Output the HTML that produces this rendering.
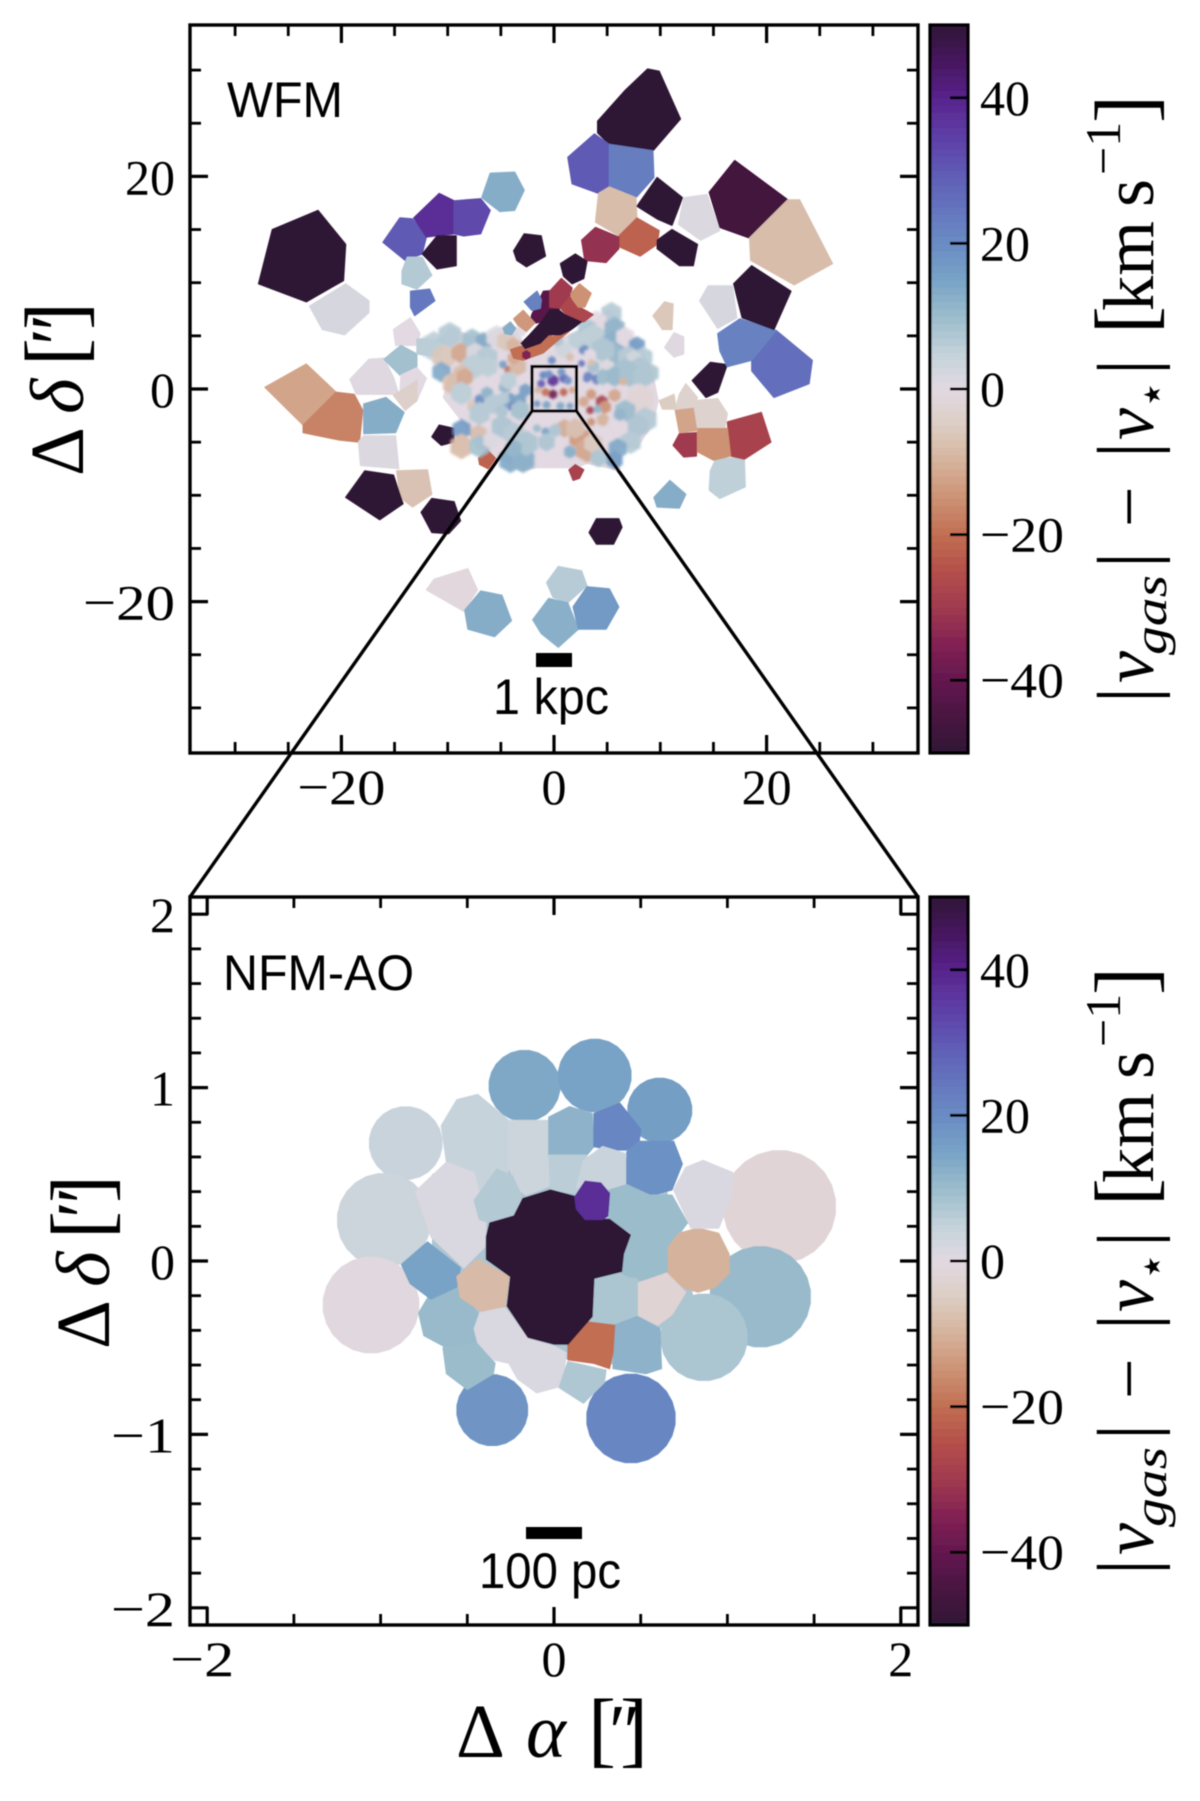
<!DOCTYPE html>
<html lang="en">
<head>
<meta charset="utf-8">
<title>WFM and NFM-AO velocity difference maps</title>
<style>
html,body{margin:0;padding:0;background:#fff;}
svg{display:block;}
text{font-family:"Liberation Serif","DejaVu Serif",serif;fill:#000;}
.sans{font-family:"Liberation Sans","DejaVu Sans",sans-serif;}
.it{font-style:italic;}
</style>
</head>
<body>
<svg id="figure" xmlns="http://www.w3.org/2000/svg" width="1200" height="1801" viewBox="0 0 1200 1801">
<defs>
<filter id="soft" x="-2%" y="-2%" width="104%" height="104%"><feGaussianBlur stdDeviation="0.6"/></filter>
<filter id="softer" x="-5%" y="-5%" width="110%" height="110%"><feGaussianBlur stdDeviation="1.4"/></filter>
</defs>
<rect x="0" y="0" width="1200" height="1801" fill="#fff"/>
<g id="root" filter="url(#soft)">
<g id="wfm-cells"></g>
<g id="wfm-small-cells" filter="url(#softer)" opacity="0.9"></g>
<g id="wfm-filament"></g>
<g id="nfm-cells"></g>
<g id="axes"></g>

<text class="sans" x="227" y="117" font-size="50" textLength="116" lengthAdjust="spacingAndGlyphs">WFM</text>
<text class="sans" x="223" y="990" font-size="50" textLength="191" lengthAdjust="spacingAndGlyphs">NFM-AO</text>

<rect x="536" y="653" width="36" height="14" fill="#000"/>
<text class="sans" x="493" y="714" font-size="50" textLength="116" lengthAdjust="spacingAndGlyphs">1 kpc</text>
<rect x="526" y="1527" width="56" height="12" fill="#000"/>
<text class="sans" x="479" y="1588" font-size="50" textLength="142" lengthAdjust="spacingAndGlyphs">100 pc</text>

<rect x="532" y="366.5" width="44.5" height="44.5" fill="none" stroke="#000" stroke-width="3.2"/>
<line x1="532" y1="411" x2="190" y2="897" stroke="#000" stroke-width="3.4"/>
<line x1="576.5" y1="411" x2="918" y2="897" stroke="#000" stroke-width="3.4"/>

<g transform="translate(83,476) rotate(-90)">
<text x="0" y="0" font-size="76">Δ</text><text class="it" x="62" y="0" font-size="76">δ</text><text x="110" y="0" font-size="84">[</text><text class="it" x="126" y="0" font-size="76">″</text><text x="146" y="0" font-size="84">]</text>
</g>
<g transform="translate(109,1349)rotate(-90)">
<text x="0" y="0" font-size="76">Δ</text><text class="it" x="62" y="0" font-size="76">δ</text><text x="110" y="0" font-size="84">[</text><text class="it" x="126" y="0" font-size="76">″</text><text x="146" y="0" font-size="84">]</text>
</g>
<g>
<text x="456" y="1757" font-size="76">Δ</text><text class="it" x="526" y="1757" font-size="76">α</text><text x="588" y="1757" font-size="84">[</text><text class="it" x="604" y="1757" font-size="76">″</text><text x="620" y="1757" font-size="84">]</text>
</g>

<g transform="translate(1153,695) rotate(-90)">
<text x="-8" y="0" font-size="80">|</text><text class="it" x="12" y="0" font-size="72">v</text><text class="it" x="40" y="13" font-size="46" textLength="80" lengthAdjust="spacingAndGlyphs">gas</text><text x="127" y="0" font-size="80">|</text><text x="168" y="0" font-size="72">−</text><text x="237" y="0" font-size="80">|</text><text class="it" x="255" y="0" font-size="72">v</text><text x="286" y="14" font-size="46" style="font-family:'DejaVu Sans',sans-serif">⋆</text><text x="320" y="0" font-size="80">|</text><text x="361" y="0" font-size="84">[</text><text x="384" y="0" font-size="72" textLength="90" lengthAdjust="spacingAndGlyphs">km</text><text x="488" y="0" font-size="72">s</text><text x="520" y="-33" font-size="50">−1</text><text x="572" y="0" font-size="84">]</text>
</g>
<g transform="translate(1153,1567) rotate(-90)">
<text x="-8" y="0" font-size="80">|</text><text class="it" x="12" y="0" font-size="72">v</text><text class="it" x="40" y="13" font-size="46" textLength="80" lengthAdjust="spacingAndGlyphs">gas</text><text x="127" y="0" font-size="80">|</text><text x="168" y="0" font-size="72">−</text><text x="237" y="0" font-size="80">|</text><text class="it" x="255" y="0" font-size="72">v</text><text x="286" y="14" font-size="46" style="font-family:'DejaVu Sans',sans-serif">⋆</text><text x="320" y="0" font-size="80">|</text><text x="361" y="0" font-size="84">[</text><text x="384" y="0" font-size="72" textLength="90" lengthAdjust="spacingAndGlyphs">km</text><text x="488" y="0" font-size="72">s</text><text x="520" y="-33" font-size="50">−1</text><text x="572" y="0" font-size="84">]</text>
</g>
</g>
</svg>
<script>
// ---- colour scale (velocity difference, km/s) ----
const scaleValues = [-50,-45,-40,-35,-30,-25,-20,-15,-10,-5,0,5,10,15,20,25,30,35,40,45,50];
const scaleColors = [[47,20,54],[72,18,64],[100,24,80],[130,34,82],[160,58,80],[180,80,75],[193,110,82],[205,145,115],[213,178,155],[220,205,195],[226,217,226],[195,210,218],[155,188,203],[120,163,198],[105,140,195],[100,115,190],[95,90,180],[93,60,165],[88,35,140],[70,22,95],[47,20,54]];
const colorbarTicks = [-40,-20,0,20,40];

// ---- WFM axis ticks (arcsec) ----
const wfmMajorTicks = [-20,0,20];
const wfmMinorTicks = [-30,-25,-15,-10,-5,5,10,15,25,30];

// ---- NFM axis ticks (arcsec) ----
const nfmXMajorTicks = [-2,0,2];
const nfmXMinorTicks = [-1.5,-1,-0.5,0.5,1,1.5];
const nfmYMajorTicks = [-2,-1,0,1,2];
const nfmYMinorTicks = [-1.8,-1.6,-1.4,-1.2,-0.8,-0.6,-0.4,-0.2,0.2,0.4,0.6,0.8,1.2,1.4,1.6,1.8];

// ---- WFM Voronoi bins: velocity and vertices in arcsec ----
const wfmMassValue = [0];
const wfmMassVertices = [[-11.3,3.9,-9.8,5.8,-7.9,5.0,-6.3,4.9,-5.4,5.5,-4.1,6.3,-2.3,3.5,2.4,5.5,5.3,7.5,6.5,5.8,8.1,4.2,9.3,1.4,9.8,-1.1,9.3,-3.3,7.8,-5.5,6.2,-5.5,6.2,-7.7,5.0,-7.4,3.1,-7.0,2.1,-7.4,-1.6,-7.4,-3.2,-7.7,-4.8,-6.7,-7.3,-5.5,-8.7,-3.0,-10.4,-0.8,-9.8,1.4,-11.3,2.7]];
const wfmBinValues = [50,30,23,-8,50,1,-46,-8,-22,-32,50,50,50,2,30,38,33,13,50,7,24,50,
  -12,-17,0.5,13,1,-7,50,50,50,50,13,5.5,-28,-30,-15,-12,-3,-3,-5,50,26,22,50,2,-6,0.5,0,9,6,0,-4,
  -1,13,6.5,12.5,17,-28,-22];
const wfmBinVertices = [
[8.8,30.1,9.9,29.9,11.9,25.4,9.3,22.4,5.2,23.0,4.1,24.1,4.1,25.2,6.7,28.1],
[1.3,21.8,3.8,24.0,5.2,23.0,5.2,19.0,4.2,18.4,1.7,19.3],
[5.2,23.0,9.3,22.4,9.4,19.9,7.7,18.0,5.2,19.0],
[4.2,18.4,5.2,19.0,7.7,18.0,7.8,16.1,6.1,14.4,3.9,15.7],
[9.7,19.9,12.1,18.0,11.1,15.4,9.7,16.0,7.8,17.2],
[12.2,18.0,14.4,18.3,15.6,14.9,13.8,14.0,11.7,15.5],
[14.6,18.5,17.0,21.5,22.0,17.8,18.4,14.2,15.6,15.2],
[22.0,17.8,23.1,17.8,26.2,11.8,22.6,9.8,18.5,12.1,18.4,14.2],
[6.1,14.4,7.8,16.1,9.9,14.9,9.7,13.6,8.1,12.5,6.1,13.4],
[2.6,14.0,3.9,15.2,6.1,14.3,6.1,13.2,4.9,11.9,2.9,12.1],
[9.7,14.0,11.1,15.0,13.5,13.6,13.1,11.6,11.8,11.6,9.7,13.2],
[-3.8,13.0,-2.8,14.6,-1.2,14.4,-0.8,12.5,-2.6,11.5,-3.5,12.1],
[-27.8,9.9,-26.5,15.0,-22.2,16.8,-19.6,13.6,-19.8,10.2,-23.3,8.2],
[-23.0,7.8,-19.6,9.9,-17.4,8.3,-17.4,7.2,-19.7,5.1,-21.8,5.6],
[-16.1,13.8,-14.5,16.1,-13.3,16.0,-12.0,14.3,-12.4,12.7,-14.0,12.1],
[-13.2,16.1,-10.8,18.4,-9.4,17.7,-9.4,14.6,-12.0,14.3],
[-9.4,17.7,-6.9,17.9,-6.0,16.8,-6.9,14.6,-8.5,14.4,-9.4,14.6],
[-6.8,18.0,-6.0,20.3,-3.7,20.4,-2.8,18.7,-3.7,16.8,-5.1,16.7],
[-12.4,12.7,-11.0,14.4,-9.2,14.4,-9.2,11.6,-11.0,11.3],
[-14.3,11.1,-13.8,12.4,-12.4,12.4,-11.5,10.7,-12.9,9.4,-14.3,9.9],
[-13.5,9.2,-11.7,9.4,-11.2,8.3,-13.1,6.9,-13.5,7.7],
[0.6,11.8,2.0,12.7,3.1,12.0,2.8,10.4,1.7,9.9,0.9,10.6],
[-27.2,0.16,-23.3,2.35,-20.5,-0.3,-23.6,-3.4],
[-23.6,-3.4,-20.5,-0.3,-18.8,-0.5,-18.0,-2.0,-18.3,-5.0,-20.2,-4.8,-23.6,-4.1],
[-19.2,0.9,-17.4,2.8,-16.0,2.9,-15.1,1.1,-14.6,-0.5,-18.6,-0.5],
[-17.9,-1.4,-15.8,-0.8,-14.1,-2.2,-14.9,-4.1,-17.9,-4.2],
[-18.4,-5.0,-17.9,-4.4,-14.9,-4.4,-14.6,-7.5,-18.2,-7.2],
[-14.8,-7.7,-11.9,-7.6,-11.5,-9.9,-13.3,-11.1,-14.5,-10.2],
[-19.6,-10.2,-17.8,-7.7,-15.1,-8.1,-14.2,-10.8,-16.4,-12.3],
[-12.5,-11.6,-11.5,-10.3,-9.4,-10.6,-8.8,-12.4,-9.9,-13.6,-11.5,-13.5],
[-11.5,-4.5,-10.8,-3.4,-9.4,-3.7,-9.4,-5.0,-10.6,-5.3],
[3.3,-13.5,4.0,-12.2,6.1,-12.2,6.4,-13.0,5.6,-14.6,4.0,-14.6],
[9.4,-10.2,10.9,-8.6,12.4,-9.9,11.8,-11.2,9.7,-11.1],
[14.7,-7.7,15.2,-6.6,17.9,-6.4,18.0,-9.2,15.6,-10.3,14.6,-9.5],
[16.3,-3.1,19.5,-2.2,20.4,-5.0,17.9,-6.6,16.6,-6.3],
[11.8,-4.2,13.5,-4.1,13.4,-6.3,12.2,-6.4,11.2,-5.3],
[13.5,-3.7,16.3,-3.7,16.6,-6.3,15.0,-6.7,13.5,-5.9],
[11.4,-2.0,13.1,-1.7,13.5,-3.9,11.8,-4.1],
[13.1,-1.1,15.4,-0.9,16.3,-2.3,16.1,-3.6,13.5,-3.6],
[11.8,-0.5,12.4,0.5,13.5,-0.8,13.1,-1.7,11.4,-1.9],
[9.9,-1.1,11.3,-0.5,11.5,-1.9,10.2,-1.9],
[13.0,0.8,14.7,2.5,16.3,2.3,15.4,-0.3,14.3,-0.8],
[18.6,2.7,20.9,5.5,24.3,2.7,24.0,0.5,20.7,-0.8,18.6,1.7],
[15.4,5.2,17.5,6.6,20.9,5.5,18.6,2.7,16.3,2.1,15.6,3.6],
[16.9,9.9,18.6,11.6,22.3,9.2,20.7,5.6,17.7,6.7],
[13.7,8.3,14.5,9.7,16.8,9.7,17.2,6.7,15.4,5.7],
[9.3,6.9,10.4,8.2,11.2,8.0,11.1,5.6,10.2,5.6],
[10.4,3.9,11.3,5.3,12.2,4.9,12.2,3.3,11.3,3.0],
[-15.1,5.6,-13.5,6.7,-12.6,5.2,-12.9,4.1,-14.9,4.1],
[-16.0,2.8,-14.4,4.1,-12.9,3.3,-12.9,2.0,-14.5,1.3],
[-12.9,4.7,-10.4,4.7,-10.6,3.0,-12.9,3.3],
[-14.4,1.3,-12.9,2.0,-12.0,1.0,-12.9,-1.1,-14.5,-0.5],
[-15.1,-0.6,-12.9,0.8,-12.9,-1.1,-14.0,-2.0],
[-12.0,-18.9,-11.3,-17.9,-8.1,-16.9,-7.2,-18.9,-8.5,-20.9],
[-8.4,-20.8,-6.9,-19.0,-4.9,-19.4,-4.0,-21.8,-5.6,-23.3,-8.1,-22.6],
[-0.7,-18.2,0.4,-16.7,2.6,-17.1,3.1,-18.5,1.3,-20.1,-0.1,-19.6],
[-2.0,-21.7,-0.5,-19.7,1.3,-20.1,2.3,-22.6,0.4,-24.3,-1.2,-23.0],
[1.8,-20.5,3.1,-18.6,5.2,-18.8,6.1,-20.5,4.9,-22.6,2.3,-22.6],
[1.4,-7.6,2.0,-7.1,2.8,-7.6,2.4,-8.4,1.8,-8.6],
[-7.1,-6.5,-6.3,-5.7,-5.5,-6.5,-6.2,-7.5,-7.0,-7.1]
];

// ---- WFM small central bins: centre (arcsec), radius (arcsec), velocity ----
const wfmSmallX = [-11.3,-9.8,-7.7,-6.6,-10.4,-8.8,-7.4,-6.3,-7.6,-6.2,-10.6,-8.7,-8.5,-5.4,-4.5,-3.8,-4.8,-4.3,-3.4,-3.8,-3.2,
  5.4,4.0,3.1,3.7,5.7,5.6,5.7,6.7,7.8,7.0,8.4,7.5,4.6,8.0,9.0,6.7,2.8,2.1,0.9,0.3,-0.2,1.5,3.4,2.6,3.7,3.5,5.0,3.1,3.9,4.6,
  -9.5,-8.4,-8.7,-7.6,-7.0,-6.3,-7.0,-5.7,-4.6,-4.1,-3.2,-3.8,-4.8,-2.7,-4.3,-3.2,-4.9,-8.7,-7.1,-8.7,-7.0,-5.9,-4.9,-3.8,-4.1,-2.9,-2.6,-3.8,-1.6,-0.8,-0.7,
  3.2,4.0,4.6,5.7,7.1,6.5,8.4,8.1,3.5,4.5,4.8,5.7,3.4,4.1,2.8,4.6,3.5,6.7,8.6,7.9,7.2,5.9,6.2,6.0,5.7,1.0,2.4,3.1,2.0,3.7,4.2,1.5,0.1,
  -1.0,-0.1,0.9,-0.5,0.7,-1.2,1.3,-0.1,-0.8,0.9,1.7,-1.5,-0.7,0.6,-1.6,1.5];
const wfmSmallY = [4.0,5.1,4.6,4.5,3.0,3.4,3.4,3.0,2.1,2.1,1.6,1.5,1.0,4.9,4.5,4.1,2.3,1.8,2.1,2.9,5.4,
  7.1,6.3,5.7,4.8,5.7,4.3,3.0,4.9,4.1,3.0,3.0,2.9,3.7,1.8,1.5,1.8,3.7,4.6,3.7,4.6,2.7,3.0,3.2,2.4,2.1,2.5,2.1,1.0,1.0,1.3,
  0.5,1.1,-0.4,-1.6,-1.0,-0.4,-2.3,-1.4,0.2,-1.2,-1.0,-1.7,-0.9,-0.1,0.8,-2.0,-2.1,-3.8,-4.2,-5.4,-5.4,-4.8,-3.5,-4.2,-6.7,-6.7,-5.1,-5.6,-3.7,-4.0,-5.0,
  1.2,0.8,1.0,1.2,1.3,0.7,1.2,-0.9,-0.5,-1.2,-1.7,-0.6,-2.0,-1.9,-1.2,-2.9,-3.1,-2.1,-2.9,-3.5,-5.0,-3.5,-2.4,-5.6,-6.7,-3.7,-4.6,-5.7,-3.7,-5.1,-6.5,-5.9,-3.9,
  1.3,0.8,1.0,1.4,1.6,0.5,0.8,-0.5,-0.3,-0.3,-0.1,-0.1,-1.5,-1.6,-1.4,-1.6];
const wfmSmallR = [1.2,1.0,0.9,0.7,1.0,0.8,0.8,0.9,1.0,0.8,0.8,0.7,0.6,0.9,0.8,0.6,0.3,0.3,0.7,0.5,0.5,
  0.9,0.9,0.8,1.1,0.9,1.0,1.0,0.8,0.7,0.9,0.8,0.6,1.0,1.0,0.8,0.9,0.4,0.7,0.7,0.5,0.3,0.3,0.5,0.25,0.5,0.25,0.6,0.3,0.3,0.5,
  0.9,0.7,0.9,0.5,0.4,0.5,0.9,0.8,0.5,0.7,0.5,0.35,0.5,0.5,0.7,0.8,0.5,0.8,0.7,1.0,0.9,0.7,0.9,0.9,1.0,1.0,1.0,0.7,0.3,0.3,0.7,
  0.35,0.3,0.5,0.8,0.9,0.3,0.9,1.2,0.4,0.5,0.5,0.5,0.3,0.3,0.4,0.5,0.3,0.9,1.0,0.9,0.9,0.8,0.5,0.8,0.7,0.7,0.9,1.0,0.8,0.8,0.7,0.5,0.5,
  0.3,0.45,0.35,0.3,0.3,0.3,0.3,0.35,0.3,0.3,0.25,0.25,0.3,0.3,0.25,0.25];
const wfmSmallV = [6,7,9,14,-6,-12,2,7,6,6,14,-8,-12,1,-6,-10,16,-20,-9,-12,1,
  7,0,8,6,12,13,11,0,17,7,7,3,8,8,8,9,20,6,3,8,20,-8,0,25,9,-8,1,24,22,10,
  -8,-12,6,-6,20,12,7,7,12,16,16,30,7,16,6,9,8,17,-8,-8.5,9,1,8,7,14,13,8,12,10,15,8,
  22,22,10,11,9,-10,8,-2,-14,-28,-15,-12,-28,12,-12,-10,-15,10,7,8,7,0,12,14,17,-11,-14,-12,-8,-6,8,13,8,
  22,38,28,20,18,30,20,-38,-20,-22,-12,-10,15,14,18,16];

// ---- WFM filament bins ----
const wfmFilamentValues = [-42,-30,-27,-15,22,-14,13,-20,-20,50];
const wfmFilamentVertices = [
[-2.1,7.0,-1.0,9.2,0.6,9.3,0.6,7.6,-1.2,6.3,-2.3,6.1],
[-0.4,9.2,0.7,10.4,1.7,9.5,1.5,8.7,0.6,7.6,-0.4,7.7],
[0.6,7.6,1.5,8.7,2.4,7.7,3.7,7.0,2.8,6.3,1.5,6.6],
[1.6,9.0,2.4,9.9,3.5,9.0,2.9,7.7,2.3,7.7,1.7,8.5],
[-2.8,8.2,-1.6,9.2,-1.2,8.4,-1.3,7.6,-2.1,7.4],
[-3.8,6.6,-2.9,7.4,-1.8,6.2,-2.6,5.4,-3.4,6.0],
[-4.8,5.7,-4.1,6.3,-3.6,5.7,-4.0,5.1,-4.6,5.2],
[-4.1,3.7,-3.2,4.0,-1.3,4.2,-0.4,5.1,0.4,4.6,-1.0,3.4,-2.9,2.7,-3.8,2.9],
[-0.4,4.8,0.6,5.2,1.4,5.4,0.3,4.5,-0.4,4.1],
[-3.1,4.3,-2.3,5.1,-1.2,6.3,-0.4,7.4,0.4,7.5,1.0,7.0,2.6,6.3,1.5,5.5,0.6,5.1,-0.5,5.1,-1.3,4.3,-2.7,3.8]
];
const wfmSpotX = [-2.6];
const wfmSpotY = [3.2];
const wfmSpotR = [0.4];
const wfmSpotV = [-35];

// ---- NFM round bins: centre, radius (arcsec), velocity ----
const nfmDiskX = [-0.855,-0.98,-0.17,0.235,0.61,-1.055,-0.356,0.444,1.30,1.19,0.865];
const nfmDiskY = [0.68,0.236,1.01,1.07,0.87,-0.254,-0.86,-0.908,0.313,-0.206,-0.44];
const nfmDiskR = [0.21,0.27,0.205,0.21,0.185,0.277,0.205,0.256,0.325,0.29,0.25];
const nfmDiskV = [4,3.5,14,15,16,-0.5,18,21,-2,10.5,8];

// ---- NFM polygon bins (drawn in this order) ----
const nfmBinValues = [8,4.5,3.5,1.5,7,12,21,6,4,19,10,-10,-2.5,8,12,-20,10.5,10,1.5,7.5,15,-8.5,1.5,50,38];
const nfmBinVertices = [
[-0.7,0.5,0.6,0.6,0.8,-0.2,0.4,-0.6,-0.5,-0.5,-0.7,0],
[-0.65,0.78,-0.56,0.93,-0.44,0.96,-0.26,0.81,-0.26,0.54,-0.30,0.35,-0.44,0.30,-0.62,0.57],
[-0.26,0.81,-0.03,0.81,-0.01,0.61,-0.03,0.43,-0.16,0.38,-0.21,0.41,-0.26,0.54],
[-0.80,0.40,-0.62,0.57,-0.46,0.51,-0.39,0.24,-0.40,0.08,-0.52,-0.04,-0.71,0.14],
[-0.46,0.35,-0.33,0.53,-0.24,0.49,-0.18,0.36,-0.23,0.26,-0.37,0.22,-0.43,0.24],
[-0.03,0.83,0.09,0.89,0.22,0.85,0.23,0.66,0.19,0.61,-0.03,0.61],
[0.23,0.85,0.38,0.91,0.50,0.76,0.49,0.68,0.42,0.64,0.32,0.64,0.23,0.66],
[-0.03,0.61,0.19,0.61,0.17,0.47,0.13,0.39,-0.02,0.41],
[0.17,0.58,0.28,0.66,0.41,0.62,0.42,0.44,0.32,0.41,0.13,0.42],
[0.42,0.63,0.49,0.69,0.69,0.69,0.74,0.56,0.68,0.41,0.57,0.38,0.42,0.44],
[0.32,0.41,0.42,0.44,0.55,0.38,0.68,0.38,0.77,0.22,0.65,0.06,0.70,-0.09,0.48,-0.11,0.39,-0.07,0.41,0.06,0.45,0.16,0.32,0.24],
[0.66,0.08,0.72,0.16,0.83,0.19,0.95,0.16,1.01,0.04,1.01,-0.07,0.93,-0.15,0.83,-0.18,0.74,-0.15,0.66,-0.07],
[0.48,-0.13,0.65,-0.07,0.76,-0.18,0.68,-0.31,0.60,-0.37,0.48,-0.31],
[0.23,-0.13,0.28,-0.09,0.48,-0.10,0.48,-0.31,0.38,-0.36,0.23,-0.33],
[0.35,-0.37,0.48,-0.32,0.61,-0.39,0.62,-0.62,0.53,-0.65,0.34,-0.62],
[0.08,-0.47,0.18,-0.35,0.35,-0.37,0.34,-0.53,0.32,-0.62,0.23,-0.59,0.08,-0.57],
[-0.78,-0.30,-0.71,-0.18,-0.56,-0.15,-0.44,-0.30,-0.46,-0.39,-0.44,-0.47,-0.62,-0.50,-0.75,-0.43],
[-0.64,-0.50,-0.44,-0.47,-0.34,-0.59,-0.35,-0.65,-0.50,-0.74,-0.62,-0.65],
[-0.46,-0.39,-0.42,-0.28,-0.28,-0.27,-0.15,-0.45,0,-0.49,0.07,-0.53,0.05,-0.72,-0.10,-0.76,-0.21,-0.68,-0.26,-0.59,-0.35,-0.57,-0.44,-0.47],
[0.03,-0.73,0.08,-0.58,0.30,-0.63,0.29,-0.70,0.17,-0.82],
[-0.88,-0.02,-0.73,0.11,-0.54,-0.04,-0.56,-0.15,-0.71,-0.22,-0.83,-0.13],
[-0.56,-0.09,-0.44,0.01,-0.26,-0.09,-0.28,-0.26,-0.42,-0.29,-0.54,-0.21],
[0.69,0.41,0.76,0.54,0.86,0.58,1.03,0.51,1.03,0.39,0.95,0.19,0.79,0.19],
[-0.39,0.14,-0.37,0.22,-0.23,0.26,-0.18,0.36,-0.02,0.41,0.13,0.37,0.13,0.29,0.23,0.24,0.32,0.24,0.44,0.15,0.40,0.04,0.39,-0.06,0.23,-0.10,0.22,-0.32,0.08,-0.48,0,-0.48,-0.15,-0.44,-0.27,-0.26,-0.25,-0.09,-0.39,0.01],
[0.12,0.37,0.18,0.46,0.27,0.45,0.32,0.39,0.31,0.26,0.28,0.24,0.18,0.24,0.13,0.30]
];

// ---- axis functions ----
const SVGNS = 'http://www.w3.org/2000/svg';
const wfmPxPerArcsec = 10.63;
const nfmPxPerArcsec = 173.4;
const panelLeft = 190, panelRight = 918, panelW = 728;
const wfmTop = 25, nfmTop = 897;
const wfmX = a => 554 + a * wfmPxPerArcsec;
const wfmY = d => 389 - d * wfmPxPerArcsec;
const nfmX = a => 554 + a * nfmPxPerArcsec;
const nfmY = d => 1261 - d * nfmPxPerArcsec;
const cbY = (v, top) => top + panelW / 2 - v * panelW / 100;
const hexGrow = 1.15;

function colorOf(v) {
  const c = Math.max(-50, Math.min(50, v));
  for (let i = 0; i < scaleValues.length - 1; i++) {
    if (c <= scaleValues[i + 1]) {
      const t = (c - scaleValues[i]) / (scaleValues[i + 1] - scaleValues[i]);
      const a = scaleColors[i], b = scaleColors[i + 1];
      return 'rgb(' + Math.round(a[0] + (b[0] - a[0]) * t) + ',' + Math.round(a[1] + (b[1] - a[1]) * t) + ',' + Math.round(a[2] + (b[2] - a[2]) * t) + ')';
    }
  }
  return 'rgb(47,20,54)';
}

function polygon(parent, verts, v, fx, fy, name) {
  const el = document.createElementNS(SVGNS, 'polygon');
  const pts = [];
  for (let i = 0; i < verts.length; i += 2) pts.push(fx(verts[i]).toFixed(1) + ',' + fy(verts[i + 1]).toFixed(1));
  el.setAttribute('points', pts.join(' '));
  el.setAttribute('fill', colorOf(v));
  el.setAttribute('stroke', colorOf(v));
  el.setAttribute('stroke-width', '1.2');
  el.setAttribute('stroke-linejoin', 'round');
  
  
  parent.appendChild(el);
}

function roundBin(parent, cx, cy, r, v, sides, fx, fy, name) {
  const verts = [];
  for (let k = 0; k < sides; k++) {
    const t = (k + 0.5) * 2 * Math.PI / sides;
    verts.push(cx + r * Math.cos(t), cy + r * Math.sin(t));
  }
  polygon(parent, verts, v, fx, fy, name);
}

function line(parent, x1, y1, x2, y2, w, name) {
  const el = document.createElementNS(SVGNS, 'line');
  el.setAttribute('x1', x1);
  el.setAttribute('y1', y1);
  el.setAttribute('x2', x2);
  el.setAttribute('y2', y2);
  el.setAttribute('stroke', '#000');
  el.setAttribute('stroke-width', w);
  
  
  parent.appendChild(el);
}

function fmt(v) { return (v < 0 ? '\u2212' : '') + Math.abs(v); }

function label(parent, x, y, v, anchor, negWidth, name) {
  const el = document.createElementNS(SVGNS, 'text');
  el.setAttribute('x', x);
  el.setAttribute('y', y);
  el.setAttribute('font-size', '50');
  el.setAttribute('text-anchor', anchor);
  if (v < 0) {
    el.setAttribute('textLength', negWidth);
    el.setAttribute('lengthAdjust', 'spacingAndGlyphs');
  }
  el.textContent = fmt(v);
  
  
  parent.appendChild(el);
}

// ---- draw maps ----
const wfmGroup = document.getElementById('wfm-cells');
const wfmSmallGroup = document.getElementById('wfm-small-cells');
const wfmFilamentGroup = document.getElementById('wfm-filament');
const nfmGroup = document.getElementById('nfm-cells');
const axesGroup = document.getElementById('axes');

wfmMassVertices.forEach((verts, i) => polygon(wfmGroup, verts, wfmMassValue[i], wfmX, wfmY, 'wfm-central-region'));
wfmBinVertices.forEach((verts, i) => polygon(wfmGroup, verts, wfmBinValues[i], wfmX, wfmY, 'wfm-bin'));
wfmSmallX.forEach((x, i) => roundBin(wfmSmallGroup, x, wfmSmallY[i], wfmSmallR[i] * hexGrow, wfmSmallV[i], 6, wfmX, wfmY, 'wfm-small-bin'));
wfmFilamentVertices.forEach((verts, i) => polygon(wfmFilamentGroup, verts, wfmFilamentValues[i], wfmX, wfmY, 'wfm-filament-bin'));
wfmSpotX.forEach((x, i) => roundBin(wfmFilamentGroup, x, wfmSpotY[i], wfmSpotR[i], wfmSpotV[i], 6, wfmX, wfmY, 'wfm-filament-spot'));

nfmDiskX.forEach((x, i) => roundBin(nfmGroup, x, nfmDiskY[i], nfmDiskR[i], nfmDiskV[i], 24, nfmX, nfmY, 'nfm-round-bin'));
nfmBinVertices.forEach((verts, i) => polygon(nfmGroup, verts, nfmBinValues[i], nfmX, nfmY, 'nfm-bin'));

// ---- panels and ticks ----
const MAJOR = 18, MINOR = 11;
function panel(top, xMajor, xMinor, yMajor, yMinor, fx, fy, prefix, xShift, xNegWidth, yNegWidth) {
  const bottom = top + panelW;
  const box = document.createElementNS(SVGNS, 'rect');
  box.setAttribute('x', panelLeft);
  box.setAttribute('y', top);
  box.setAttribute('width', panelW);
  box.setAttribute('height', panelW);
  box.setAttribute('fill', 'none');
  box.setAttribute('stroke', '#000');
  box.setAttribute('stroke-width', '3.4');
  
  
  axesGroup.appendChild(box);
  xMajor.forEach(v => {
    line(axesGroup, fx(v), bottom, fx(v), bottom - MAJOR, 3.2, prefix + '-x-major-tick');
    line(axesGroup, fx(v), top, fx(v), top + MAJOR, 3.2, prefix + '-x-major-tick-top');
    label(axesGroup, fx(v) + (v < 0 ? xShift : 0), bottom + 51, v, 'middle', xNegWidth, prefix + '-x-tick-label');
  });
  xMinor.forEach(v => {
    line(axesGroup, fx(v), bottom, fx(v), bottom - MINOR, 2.8, prefix + '-x-minor-tick');
    line(axesGroup, fx(v), top, fx(v), top + MINOR, 2.8, prefix + '-x-minor-tick-top');
  });
  yMajor.forEach(v => {
    line(axesGroup, panelLeft, fy(v), panelLeft + MAJOR, fy(v), 3.2, prefix + '-y-major-tick');
    line(axesGroup, panelRight, fy(v), panelRight - MAJOR, fy(v), 3.2, prefix + '-y-major-tick-right');
    label(axesGroup, 175, fy(v) + 18, v, 'end', yNegWidth, prefix + '-y-tick-label');
  });
  yMinor.forEach(v => {
    line(axesGroup, panelLeft, fy(v), panelLeft + MINOR, fy(v), 2.8, prefix + '-y-minor-tick');
    line(axesGroup, panelRight, fy(v), panelRight - MINOR, fy(v), 2.8, prefix + '-y-minor-tick-right');
  });
}
panel(wfmTop, wfmMajorTicks, wfmMinorTicks, wfmMajorTicks, wfmMinorTicks, wfmX, wfmY, 'wfm', 0, 88, 92);
panel(nfmTop, nfmXMajorTicks, nfmXMinorTicks, nfmYMajorTicks, nfmYMinorTicks, nfmX, nfmY, 'nfm', -5, 64, 64);

// ---- colorbars ----
function colorbar(top, prefix) {
  const left = 930, w = 38;
  for (let v = -50; v < 50; v += 1) {
    const seg = document.createElementNS(SVGNS, 'rect');
    seg.setAttribute('x', left);
    seg.setAttribute('y', cbY(v + 1, top));
    seg.setAttribute('width', w);
    seg.setAttribute('height', panelW / 100 + 0.6);
    seg.setAttribute('fill', colorOf(v + 0.5));
    
    
    axesGroup.appendChild(seg);
  }
  const frame = document.createElementNS(SVGNS, 'rect');
  frame.setAttribute('x', left);
  frame.setAttribute('y', top);
  frame.setAttribute('width', w);
  frame.setAttribute('height', panelW);
  frame.setAttribute('fill', 'none');
  frame.setAttribute('stroke', '#000');
  frame.setAttribute('stroke-width', '3.2');
  
  
  axesGroup.appendChild(frame);
  colorbarTicks.forEach(v => {
    line(axesGroup, left + w, cbY(v, top), left + w - 18, cbY(v, top), 3, prefix + '-colorbar-tick');
    label(axesGroup, 980, cbY(v, top) + 17, v, 'start', 84, prefix + '-colorbar-tick-label');
  });
}
colorbar(wfmTop, 'wfm');
colorbar(nfmTop, 'nfm');
</script>
</body>
</html>
